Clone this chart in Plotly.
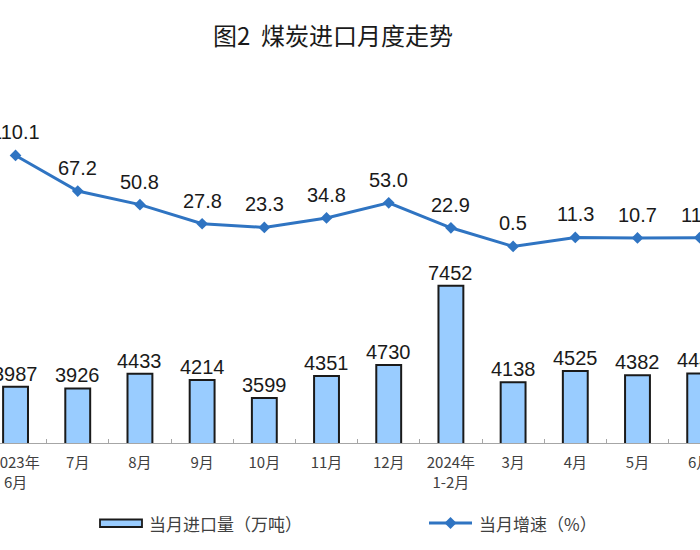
import plotly.graph_objects as go

# ---- data ----
months = ["2023年<br>6月", "7月", "8月", "9月", "10月", "11月", "12月",
          "2024年<br>1-2月", "3月", "4月", "5月", "6月"]
imports = [3987, 3926, 4433, 4214, 3599, 4351, 4730, 7452, 4138, 4525, 4382, 4441]
growth = [110.1, 67.2, 50.8, 27.8, 23.3, 34.8, 53.0, 22.9, 0.5, 11.3, 10.7, 11.0]
title_text = "图2  煤炭进口月度走势"
legend_bar = "当月进口量（万吨）"
legend_line = "当月增速（%）"

W, H = 700, 550
T, B = 100, 107
PH = H - T - B

BAR_FILL = "#99CCFF"
LINE_COL = "#2F74C2"
NUM_FONT = "Liberation Sans, Arial, sans-serif"
CJK_FONT = "Noto Sans CJK SC, sans-serif"

xs = list(range(len(months)))

fig = go.Figure()
fig.add_trace(go.Bar(
    x=xs, y=imports, width=0.4, yaxis="y",
    marker=dict(color=BAR_FILL, line=dict(color="#1a1a1a", width=2)),
    showlegend=False, hoverinfo="skip",
))
fig.add_trace(go.Scatter(
    x=xs, y=growth, yaxis="y2", mode="lines+markers",
    line=dict(color=LINE_COL, width=3),
    marker=dict(symbol="diamond", size=9, color=LINE_COL),
    showlegend=False, hoverinfo="skip", cliponaxis=False,
))

annotations = []
for xi, v in zip(xs, imports):
    annotations.append(dict(x=xi, y=v, xref="x", yref="y", text=str(v),
                            showarrow=False, yanchor="middle", yshift=13,
                            font=dict(family=NUM_FONT, size=20, color="#1a1a1a")))
for xi, v in zip(xs, growth):
    annotations.append(dict(x=xi, y=v, xref="x", yref="y2", text=f"{v:.1f}",
                            showarrow=False, yanchor="middle", yshift=23,
                            font=dict(family=NUM_FONT, size=20, color="#1a1a1a")))

def py2paper(py):
    return (H - B - py) / PH

# manual legend
leg_y = py2paper(523)
annotations.append(dict(x=147 / W, y=leg_y, xref="paper", yref="paper", text=legend_bar,
                        showarrow=False, xanchor="left", yanchor="middle",
                        font=dict(family=CJK_FONT, size=17, color="#404040")))
annotations.append(dict(x=477 / W, y=leg_y, xref="paper", yref="paper", text=legend_line,
                        showarrow=False, xanchor="left", yanchor="middle",
                        font=dict(family=CJK_FONT, size=17, color="#404040")))

dx, dy = 6 / W, 6 / PH
cx = 450.5 / W
shapes = [
    dict(type="rect", xref="paper", yref="paper", x0=100 / W, x1=142 / W,
         y0=py2paper(527), y1=py2paper(519.5), fillcolor=BAR_FILL,
         line=dict(color="#1a1a1a", width=1.8)),
    dict(type="line", xref="paper", yref="paper", x0=429 / W, x1=472 / W,
         y0=leg_y, y1=leg_y, line=dict(color=LINE_COL, width=3)),
    dict(type="path", xref="paper", yref="paper",
         path=f"M {cx - dx},{leg_y} L {cx},{leg_y + dy} L {cx + dx},{leg_y} L {cx},{leg_y - dy} Z",
         fillcolor=LINE_COL, line=dict(color=LINE_COL, width=0)),
]

fig.update_layout(
    width=W, height=H,
    margin=dict(l=0, r=0, t=T, b=B, pad=0, autoexpand=False),
    paper_bgcolor="white", plot_bgcolor="white",
    title=dict(text=title_text, x=333 / W, xanchor="center", y=1 - 37 / H, yanchor="middle",
               font=dict(family=CJK_FONT, size=24, color="#1a1a1a")),
    xaxis=dict(range=[-0.25, 11.005], tickmode="array", tickvals=xs, ticktext=months,
               showline=True, linecolor="#A6A6A6", linewidth=1, ticks="",
               showgrid=False, zeroline=False, ticklabelstandoff=6,
               ticklabeloverflow="allow", automargin=False,
               tickfont=dict(family=CJK_FONT, size=15, color="#404040"),
               minor=dict(tickmode="linear", tick0=0.5, dtick=1, ticks="inside",
                          ticklen=4, tickcolor="#A6A6A6", tickwidth=1, showgrid=False)),
    yaxis=dict(range=[2050, 13837], visible=False, showgrid=False, automargin=False),
    yaxis2=dict(range=[-236.4, 176.9], overlaying="y", visible=False, showgrid=False,
                automargin=False),
    annotations=annotations, shapes=shapes,
)

fig.write_html("out.html")
